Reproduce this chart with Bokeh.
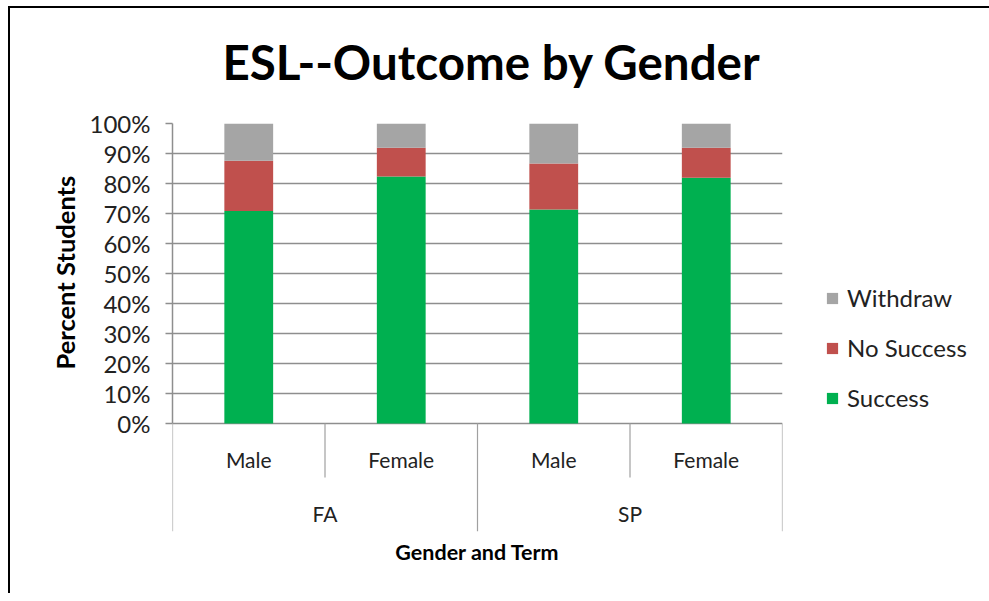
from bokeh.plotting import figure
from bokeh.models import Range1d, FixedTicker, Legend, LegendItem, ColumnDataSource, Title
from bokeh.core.properties import value
from bokeh.embed import file_html
from bokeh.resources import INLINE

# ---- data ----
terms = ["FA", "FA", "SP", "SP"]
genders = ["Male", "Female", "Male", "Female"]
success = [70.8, 82.3, 71.3, 81.9]
no_success = [16.8, 9.6, 15.4, 10.0]
withdraw = [12.4, 8.1, 13.3, 8.1]
series = ["Success", "No Success", "Withdraw"]
colors = ["#00B050", "#C0504D", "#A5A5A5"]
y_ticks = list(range(0, 101, 10))
y_tick_labels = [f"{t}%" for t in y_ticks]

FONT = "Lato"
GRID = "#8E8E8E"

n = len(genders)
xs = [i + 0.5 for i in range(n)]
source = ColumnDataSource(dict(x=xs, Success=success, **{"No Success": no_success}, Withdraw=withdraw))

p = figure(frame_width=610, frame_height=408, x_range=Range1d(0, n), y_range=Range1d(-36, 100),
           output_backend="svg", toolbar_location=None,
           min_border_left=162, min_border_right=191, min_border_top=115, min_border_bottom=62,
           styles={"margin-left": "8px", "margin-top": "6px",
                   "border-left": "2px solid #000000", "border-top": "2px solid #000000"})
p.outline_line_color = None
p.background_fill_color = "white"
p.border_fill_color = "white"

# title
p.title.text = "ESL--Outcome by Gender"
p.title.text_font = FONT
p.title.text_font_style = "bold"
p.title.text_font_size = "47.5px"
p.title.align = "left"
p.title.offset = 50
p.title.vertical_align = "bottom"
p.title.text_color = "#000000"
p.title.standoff = 0
# spacer between the title and the plot area
p.add_layout(Title(text=" ", text_font_size="1px", standoff=31), "above")

# bars
rs = p.vbar_stack(series, x="x", width=0.32, source=source, fill_color=colors, line_color=None)

# grid / y axis
p.xgrid.visible = False
p.ygrid.ticker = FixedTicker(ticks=y_ticks)
p.ygrid.grid_line_color = GRID
p.ygrid.grid_line_width = 1.5
p.yaxis.ticker = FixedTicker(ticks=y_ticks)
p.yaxis.major_label_overrides = {t: l for t, l in zip(y_ticks, y_tick_labels)}
p.yaxis.bounds = (0, 100)
p.yaxis.axis_line_color = GRID
p.yaxis.axis_line_width = 1.5
p.yaxis.major_tick_line_color = GRID
p.yaxis.major_tick_line_width = 1.5
p.yaxis.major_tick_in = 0
p.yaxis.major_tick_out = 7
p.yaxis.minor_tick_line_color = None
p.yaxis.major_label_standoff = 15
p.yaxis.major_label_text_font = FONT
p.yaxis.major_label_text_font_size = "24px"
p.yaxis.major_label_text_color = "#222222"

# y axis title, aligned with the 0-100% part of the axis
ytitle = Title(text="Percent Students", align="left", offset=162, standoff=13,
               text_font=FONT, text_font_style="bold", text_font_size="25.5px",
               text_color="#000000")
p.add_layout(ytitle, "left")

# x axis: only its title
p.xaxis.ticker = FixedTicker(ticks=[])
p.xaxis.axis_line_color = None
p.xaxis.major_tick_line_color = None
p.xaxis.minor_tick_line_color = None
p.xaxis.axis_label = "Gender and Term"
p.xaxis.axis_label_text_font = FONT
p.xaxis.axis_label_text_font_style = "bold"
p.xaxis.axis_label_text_font_size = "21.5px"
p.xaxis.axis_label_text_color = "#000000"
p.xaxis.axis_label_standoff = 7

# category separators (Excel-style multi-level axis)
bounds = list(range(n + 1))
ends = []
for b in bounds:
    if b == 0 or b == n or terms[b - 1] != terms[b]:
        ends.append(-36)
    else:
        ends.append(-18)
p.segment(x0=bounds, y0=[0] * len(bounds), x1=bounds, y1=ends, line_color="#A0A0A0", line_width=1.2)

# category labels
p.text(x=xs, y=[-12] * n, text=genders, text_align="center", text_baseline="middle",
       text_font=value(FONT), text_font_size="21px", text_color="#222222")
uniq_terms = []
for t in terms:
    if t not in uniq_terms:
        uniq_terms.append(t)
term_x = [sum(xs[i] for i in range(n) if terms[i] == t) / terms.count(t) for t in uniq_terms]
p.text(x=term_x, y=[-30] * len(uniq_terms), text=uniq_terms, text_align="center", text_baseline="middle",
       text_font=value(FONT), text_font_size="21px", text_color="#222222")

# legend
legend = Legend(items=[LegendItem(label=series[k], renderers=[rs[k]]) for k in (2, 1, 0)],
                location=(43, 119))
legend.label_text_font = FONT
legend.label_text_font_size = "24px"
legend.label_text_color = "#222222"
legend.glyph_width = 14
legend.glyph_height = 14
legend.label_height = 24
legend.spacing = 21
legend.padding = 0
legend.margin = 0
legend.border_line_color = None
legend.background_fill_alpha = 0
legend.label_standoff = 8
p.add_layout(legend, "right")

open("out.html", "w").write(file_html(p, INLINE))
